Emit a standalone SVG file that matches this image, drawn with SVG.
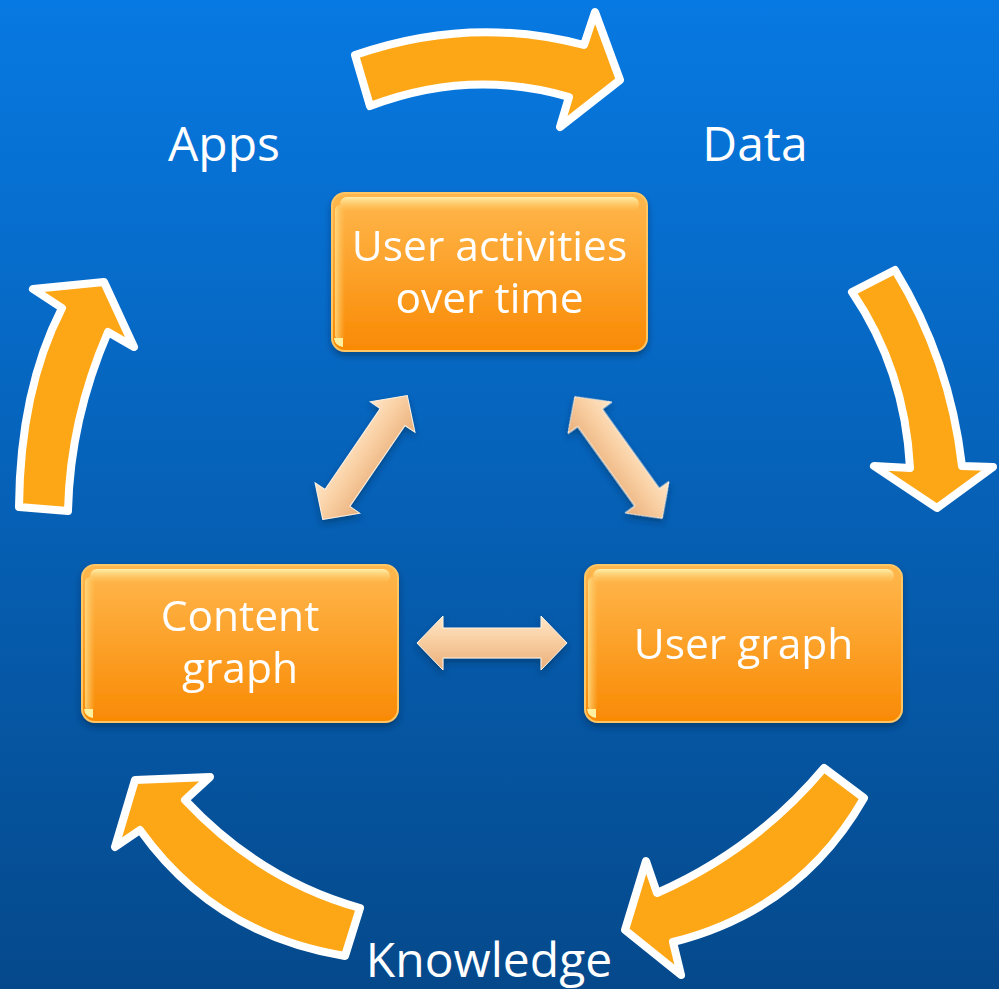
<svg xmlns="http://www.w3.org/2000/svg" width="999" height="989" viewBox="0 0 999 989">
  <defs>
    <linearGradient id="bg" x1="0" y1="0" x2="0" y2="1">
      <stop offset="0" stop-color="#0779E2"/>
      <stop offset="1" stop-color="#05498B"/>
    </linearGradient>
    <linearGradient id="boxFill" x1="0" y1="0" x2="0" y2="1">
      <stop offset="0" stop-color="#FFB84E"/>
      <stop offset="1" stop-color="#F98A04"/>
    </linearGradient>
    <linearGradient id="boxShine" x1="0" y1="0" x2="0" y2="1">
      <stop offset="0" stop-color="#FFF2B0" stop-opacity="0.95"/>
      <stop offset="1" stop-color="#FFD070" stop-opacity="0"/>
    </linearGradient>
    <linearGradient id="boxSide" x1="0" y1="0" x2="1" y2="0">
      <stop offset="0" stop-color="#FFE08A" stop-opacity="0.8"/>
      <stop offset="1" stop-color="#FFD070" stop-opacity="0"/>
    </linearGradient>
    <linearGradient id="linkFill" x1="0" y1="0" x2="0" y2="1">
      <stop offset="0" stop-color="#FFE6C8"/>
      <stop offset="0.45" stop-color="#F9CFA2"/>
      <stop offset="1" stop-color="#E9AE7A"/>
    </linearGradient>
    <filter id="boxShadow" x="-10%" y="-10%" width="120%" height="130%">
      <feDropShadow dx="0" dy="4" stdDeviation="3" flood-color="#00203F" flood-opacity="0.45"/>
    </filter>
    <filter id="linkShadow" x="-20%" y="-40%" width="140%" height="180%">
      <feDropShadow dx="0" dy="4" stdDeviation="3" flood-color="#00203F" flood-opacity="0.4"/>
    </filter>
  </defs>
  <style>
    .cycle { fill: #FDA716; stroke: #FFFFFF; stroke-width: 8; stroke-linejoin: round; }
    .box { fill: url(#boxFill); stroke: #FFC664; stroke-width: 2; }
    .shine { fill: url(#boxShine); }
    .side { fill: url(#boxSide); }
    .corner { fill: #FFF0A0; }
    .link { fill: url(#linkFill); stroke: #FFF3E2; stroke-width: 1; stroke-linejoin: miter; }
    .label { font-family: "Open Sans", "Noto Sans", "DejaVu Sans", sans-serif; fill: #FFFFFF; text-anchor: middle; }
    .outer { font-size: 48px; }
    .inner { font-size: 42.5px; }
  </style>

  <rect x="0" y="0" width="999" height="989" fill="url(#bg)"/>

  <!-- cycle arrows around the outside -->
  <g id="cycle-arrows">
    <path id="arrow-apps-data" class="cycle" d="M 355,55 Q 470,15 584,45 L 595,12 L 620,80 L 560,127 L 569,97 Q 470,68 370,106 Z"/>
    <path id="arrow-data-knowledge" class="cycle" d="M 852,292 L 895,270 Q 950,360 962,466 L 993,467 L 937,508 L 874,466 L 910,468 Q 905,370 852,292 Z"/>
    <path id="arrow-knowledge-right" class="cycle" d="M 824,768 L 864,798 Q 800,910 673,942 L 681,975 L 625,930 L 646,861 L 657,893 Q 755,850 824,768 Z"/>
    <path id="arrow-knowledge-left" class="cycle" d="M 360,908 L 345,956 Q 215,935 140,830 L 115,847 L 135,780 L 210,777 L 185,800 Q 260,880 360,908 Z"/>
    <path id="arrow-apps" class="cycle" d="M 19,507 Q 20,390 62,308 L 33,289 L 104,282 L 134,347 L 108,332 Q 70,420 68,511 Z"/>
  </g>

  <!-- stage labels -->
  <g id="labels">
    <text class="label outer" x="224" y="161">Apps</text>
    <text class="label outer" x="755" y="161">Data</text>
    <text class="label outer" x="489" y="977">Knowledge</text>
  </g>

  <!-- two-way links between the inner boxes -->
  <g id="connectors" filter="url(#linkShadow)">
    <path class="link" transform="translate(365,457.5) rotate(-55.7)" d="M -75,0 L -49,-27 L -49,-15 L 49,-15 L 49,-27 L 75,0 L 49,27 L 49,15 L -49,15 L -49,27 Z"/>
    <path class="link" transform="translate(618.5,457.5) rotate(54.3)" d="M -75,0 L -49,-27 L -49,-15 L 49,-15 L 49,-27 L 75,0 L 49,27 L 49,15 L -49,15 L -49,27 Z"/>
    <path class="link" transform="translate(492,643)" d="M -75,0 L -49,-27 L -49,-15 L 49,-15 L 49,-27 L 75,0 L 49,27 L 49,15 L -49,15 L -49,27 Z"/>
  </g>

  <!-- inner boxes -->
  <g id="node-activities" filter="url(#boxShadow)">
    <rect class="box" x="332" y="193" width="315" height="158" rx="13"/>
    <rect class="shine" x="340" y="197" width="299" height="14" rx="7"/>
    <rect class="side" x="335" y="205" width="10" height="135" rx="5"/>
    <path class="corner" d="M 334,338 L 343,338 L 343,347 Q 335,346 334,338 Z"/>
    <text class="label inner" x="489.5" y="261">User activities</text>
    <text class="label inner" x="489.5" y="313">over time</text>
  </g>

  <g id="node-content" filter="url(#boxShadow)">
    <rect class="box" x="82" y="565" width="316" height="157" rx="13"/>
    <rect class="shine" x="90" y="569" width="300" height="14" rx="7"/>
    <rect class="side" x="85" y="577" width="10" height="134" rx="5"/>
    <path class="corner" d="M 84,709 L 93,709 L 93,718 Q 85,717 84,709 Z"/>
    <text class="label inner" x="240" y="631">Content</text>
    <text class="label inner" x="240" y="683">graph</text>
  </g>

  <g id="node-user" filter="url(#boxShadow)">
    <rect class="box" x="585" y="565" width="317" height="157" rx="13"/>
    <rect class="shine" x="593" y="569" width="301" height="14" rx="7"/>
    <rect class="side" x="588" y="577" width="10" height="134" rx="5"/>
    <path class="corner" d="M 587,709 L 596,709 L 596,718 Q 588,717 587,709 Z"/>
    <text class="label inner" x="743.5" y="659">User graph</text>
  </g>
</svg>
